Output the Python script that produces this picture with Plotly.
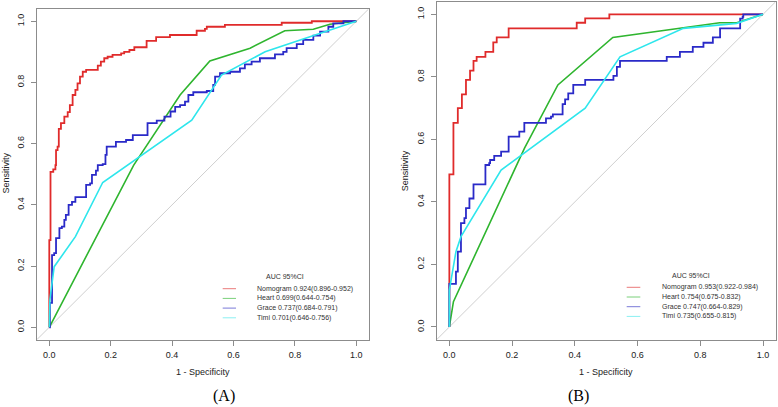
import plotly.graph_objects as go

W, H = 778, 407

# ---------------- data ----------------
TICKS = [0.0, 0.2, 0.4, 0.6, 0.8, 1.0]
TICK_TEXT = ["0.0", "0.2", "0.4", "0.6", "0.8", "1.0"]
SERIES = ["Nomogram", "Heart", "Grace", "Timi"]
COLORS = ["#e02b2b", "#2fb52f", "#2a2ac8", "#2ee6ec"]
LEG_COLORS = ["#ea7a7a", "#7ad07a", "#7a7ad8", "#8af0f2"]

LABELS_A = ["Nomogram 0.924(0.896-0.952)", "Heart 0.699(0.644-0.754)",
            "Grace 0.737(0.684-0.791)", "Timi 0.701(0.646-0.756)"]
LABELS_B = ["Nomogram 0.953(0.922-0.984)", "Heart 0.754(0.675-0.832)",
            "Grace 0.747(0.664-0.829)", "Timi 0.735(0.655-0.815)"]

# Panel A
nomo_a_x = [0, 0, 0.004, 0.013, 0.020, 0.022, 0.027, 0.031, 0.038, 0.049, 0.060, 0.067, 0.076, 0.085,
            0.092, 0.100, 0.109, 0.120, 0.158, 0.168, 0.179, 0.190, 0.206, 0.234, 0.244, 0.261, 0.277,
            0.317, 0.348, 0.393, 0.480, 0.507, 0.513, 0.572, 0.757, 0.855, 1.0]
nomo_a_y = [0, 0.285, 0.508, 0.516, 0.530, 0.579, 0.590, 0.648, 0.667, 0.688, 0.703, 0.726, 0.759, 0.776,
            0.797, 0.819, 0.835, 0.841, 0.855, 0.868, 0.879, 0.884, 0.890, 0.895, 0.900, 0.906, 0.915,
            0.936, 0.948, 0.955, 0.969, 0.975, 0.982, 0.988, 0.995, 1.0, 1.0]
heart_a_x = [0, 0.275, 0.426, 0.523, 0.654, 0.767, 0.860, 0.914, 1.0]
heart_a_y = [0, 0.530, 0.759, 0.870, 0.912, 0.969, 0.974, 0.990, 1.0]
grace_a_x = [0, 0.002, 0.009, 0.016, 0.022, 0.033, 0.041, 0.049, 0.054, 0.063, 0.074, 0.085, 0.120,
             0.133, 0.139, 0.152, 0.158, 0.174, 0.183, 0.187, 0.217, 0.250, 0.272, 0.320, 0.350, 0.375,
             0.395, 0.410, 0.426, 0.442, 0.453, 0.469, 0.513, 0.534, 0.540, 0.556, 0.589, 0.621, 0.637,
             0.659, 0.686, 0.735, 0.762, 0.773, 0.806, 0.827, 0.860, 0.882, 0.909, 0.925, 0.958, 1.0]
grace_a_y = [0, 0.080, 0.236, 0.242, 0.291, 0.324, 0.329, 0.351, 0.367, 0.400, 0.410, 0.425, 0.465,
             0.470, 0.498, 0.512, 0.530, 0.533, 0.563, 0.590, 0.606, 0.612, 0.628, 0.667, 0.675, 0.688,
             0.705, 0.720, 0.726, 0.737, 0.759, 0.768, 0.772, 0.792, 0.819, 0.830, 0.835, 0.846, 0.859,
             0.868, 0.879, 0.892, 0.900, 0.912, 0.925, 0.939, 0.953, 0.966, 0.982, 0.993, 1.0, 1.0]
timi_a_x = [0, 0.002, 0.016, 0.085, 0.174, 0.464, 0.561, 0.703, 1.0]
timi_a_y = [0, 0.090, 0.198, 0.296, 0.473, 0.677, 0.824, 0.900, 1.0]

# Panel B
nomo_b_x = [0, 0, 0.013, 0.027, 0.040, 0.053, 0.066, 0.077, 0.087, 0.115, 0.140, 0.151, 0.189, 0.406,
            0.433, 0.510, 1.0]
nomo_b_y = [0, 0.488, 0.653, 0.700, 0.744, 0.790, 0.820, 0.851, 0.864, 0.880, 0.910, 0.926, 0.955, 0.973,
            0.987, 1.0, 1.0]
heart_b_x = [0, 0.013, 0.240, 0.346, 0.521, 0.862, 0.916, 1.0]
heart_b_y = [0, 0.081, 0.573, 0.774, 0.926, 0.973, 0.973, 1.0]
grace_b_x = [0, 0, 0.021, 0.027, 0.037, 0.048, 0.053, 0.064, 0.077, 0.115, 0.127, 0.130, 0.143, 0.165,
             0.189, 0.223, 0.239, 0.308, 0.324, 0.330, 0.361, 0.369, 0.379, 0.395, 0.433, 0.523, 0.534,
             0.544, 0.693, 0.735, 0.776, 0.810, 0.840, 0.863, 0.927, 0.935, 0.937, 1.0]
grace_b_y = [0, 0.138, 0.177, 0.241, 0.332, 0.348, 0.380, 0.411, 0.456, 0.518, 0.524, 0.534, 0.547, 0.561,
             0.609, 0.625, 0.653, 0.667, 0.673, 0.680, 0.713, 0.728, 0.747, 0.774, 0.790, 0.803, 0.832,
             0.851, 0.864, 0.880, 0.896, 0.909, 0.926, 0.955, 0.986, 0.992, 1.0, 1.0]
timi_b_x = [0, 0, 0.021, 0.037, 0.165, 0.433, 0.544, 0.746, 0.916, 1.0]
timi_b_y = [0, 0.118, 0.241, 0.289, 0.502, 0.700, 0.864, 0.955, 0.971, 1.0]

DIAG = [-0.04, 1.04]
AX_RANGE = [-0.04, 1.04]

# ---------------- figure ----------------
def px(x):
    return x / W

def py(y):
    return (H - y) / H

fig = go.Figure()

panels = [
    ("x", "y", [(nomo_a_x, nomo_a_y, "hv"), (heart_a_x, heart_a_y, "linear"),
                (grace_a_x, grace_a_y, "hv"), (timi_a_x, timi_a_y, "linear")]),
    ("x2", "y2", [(nomo_b_x, nomo_b_y, "hv"), (heart_b_x, heart_b_y, "linear"),
                  (grace_b_x, grace_b_y, "hv"), (timi_b_x, timi_b_y, "linear")]),
]
widths = [1.8, 1.6, 1.8, 1.6]
for xa, ya, curves in panels:
    fig.add_trace(go.Scatter(x=DIAG, y=DIAG, mode="lines", xaxis=xa, yaxis=ya,
                             line=dict(color="#cfcfcf", width=1), showlegend=False, hoverinfo="skip"))
    for i, (cx, cy, shape) in enumerate(curves):
        fig.add_trace(go.Scatter(x=cx, y=cy, mode="lines", xaxis=xa, yaxis=ya, name=SERIES[i],
                                 line=dict(color=COLORS[i], width=widths[i], shape=shape),
                                 showlegend=False))

axis_common = dict(range=AX_RANGE, tickvals=TICKS, ticktext=TICK_TEXT, showline=True, mirror=True,
                   linecolor="#8c8c8c", linewidth=1, ticks="outside", ticklen=5, tickcolor="#8c8c8c",
                   showgrid=False, zeroline=False, fixedrange=True,
                   tickfont=dict(family="Liberation Sans, Arial", size=9, color="#222222"))

fig.update_layout(
    width=W, height=H, margin=dict(l=0, r=0, t=0, b=0),
    paper_bgcolor="white", plot_bgcolor="white",
    xaxis=dict(domain=[px(37.0), px(368.6)], anchor="y", ticklabelstandoff=2, **axis_common),
    yaxis=dict(domain=[py(339.5), py(9.0)], anchor="x", tickangle=-90, ticklabelstandoff=3, **axis_common),
    xaxis2=dict(domain=[px(436.8), px(775.6)], anchor="y2", ticklabelstandoff=2, **axis_common),
    yaxis2=dict(domain=[py(339.5), py(1.8)], anchor="x2", tickangle=-90, ticklabelstandoff=3, **axis_common),
)

ann = []
lab_font = dict(family="Liberation Sans, Arial", size=9, color="#222222")
for cx, cyt, cxs, cys, lab, lx in [(203, 372.3, 6, 173.5, "(A)", 224), (606.3, 372.3, 404.7, 170.5, "(B)", 578.5)]:
    ann.append(dict(x=px(cx), y=py(cyt), xref="paper", yref="paper", text="1 - Specificity",
                    showarrow=False, font=lab_font, xanchor="center", yanchor="middle"))
    ann.append(dict(x=px(cxs), y=py(cys), xref="paper", yref="paper", text="Sensitivity",
                    showarrow=False, font=lab_font, textangle=-90, xanchor="center", yanchor="middle"))
    ann.append(dict(x=px(lx), y=py(396.0), xref="paper", yref="paper", text=lab, showarrow=False,
                    font=dict(family="Liberation Serif, Times New Roman", size=16, color="black"),
                    xanchor="center", yanchor="middle"))

leg_font = dict(family="Liberation Sans, Arial", size=7, color="#333333")
shapes = []
for labels, title_x, title_y, row0, line_x0, line_x1, text_x in [
    (LABELS_A, 285.3, 276.7, 288.7, 222.7, 236.0, 255.0),
    (LABELS_B, 690.8, 275.3, 287.3, 626.7, 640.3, 659.7),
]:
    ann.append(dict(x=px(title_x), y=py(title_y), xref="paper", yref="paper", text="AUC 95%CI",
                    showarrow=False, font=leg_font, xanchor="center", yanchor="middle"))
    for i, lab in enumerate(labels):
        yy = row0 + i * 9.7
        ann.append(dict(x=px(text_x), y=py(yy), xref="paper", yref="paper", text=lab, showarrow=False,
                        font=leg_font, xanchor="left", yanchor="middle"))
        shapes.append(dict(type="line", xref="paper", yref="paper", x0=px(line_x0), x1=px(line_x1),
                           y0=py(yy), y1=py(yy), line=dict(color=LEG_COLORS[i], width=1)))

fig.update_layout(annotations=ann, shapes=shapes)
fig.write_html("out.html", config={"displayModeBar": False},
               post_script="document.body.style.margin='0';document.body.style.overflow='hidden';")
